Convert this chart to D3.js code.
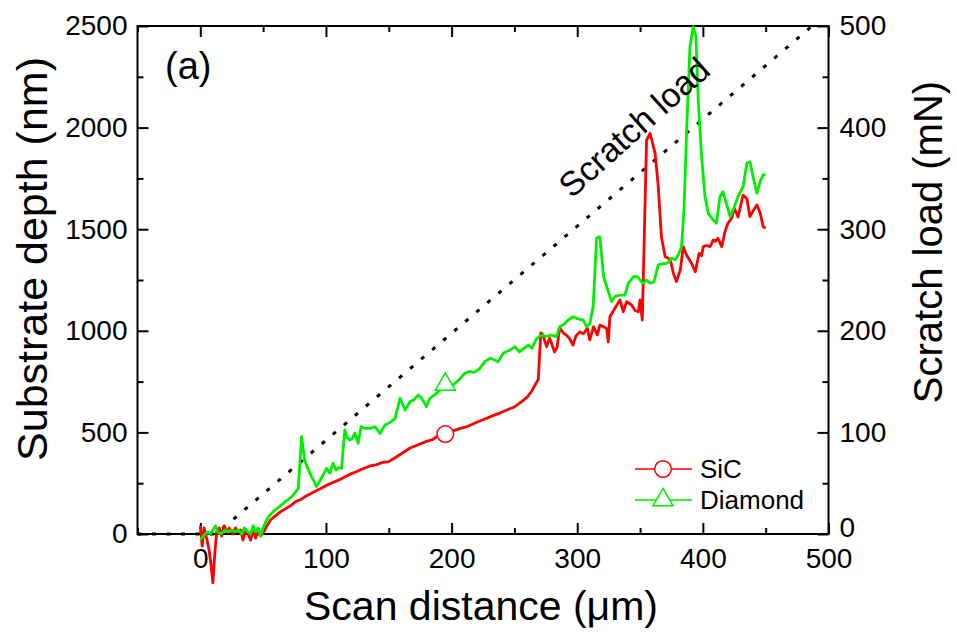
<!DOCTYPE html>
<html>
<head>
<meta charset="utf-8">
<script src="https://cdn.jsdelivr.net/npm/d3@7"></script>
<style>
  html, body { margin: 0; padding: 0; background: #fff; }
  svg { display: block; }
  text { font-family: "Liberation Sans", Arial, Helvetica, sans-serif; fill: #000; }
</style>
</head>
<body>
<svg id="chart" width="957" height="640"></svg>
<script>
// ---------------- data ----------------
const xTicksMajor = [0, 100, 200, 300, 400, 500];
const xTicksMinor = [-50, 50, 150, 250, 350, 450];
const yLeftMajor = [0, 500, 1000, 1500, 2000, 2500];
const yLeftMinor = [250, 750, 1250, 1750, 2250];
const yRightMajor = [0, 100, 200, 300, 400, 500];
const yRightMinor = [50, 150, 250, 350, 450];

const seriesNames = ["SiC", "Diamond"];
const seriesColors = ["#ff0000", "#00ee00"];

// SiC substrate depth (nm) vs scan distance (um)
const sicX = [0,1.5,3,5,7,8.5,10,11.5,13,15,17,19,21,23,26,28,30,32,34,36,38,40,42,44,46,48,50,53,56,60,64,68,72,76,80,85,90,95,100,105,110,116,120,124,130,135,140,145,150,155,160,167,173,180,185,188,194,200,207,213,220,226,232,238,244,250,255,260,264,267,269,271,272.7,275.6,278,280,282,284,286,289,292,294,296.6,299,302,305,308,310,313,316,318,321,323.4,324.7,326,330,334,336.6,339.3,343.3,346,348.6,350,351.8,355.2,358,362,364.5,367,370,372.5,374.5,376.5,379,382,384.4,387,391,394,397,399,400.3,403,405.7,408.3,410,412,415,417.6,420,423,425,428,432,435,437.5,440,443,445.6,448,450];
const sicY = [40,-60,30,-20,-80,-150,-240,-100,10,30,-10,40,10,30,0,30,10,20,-30,20,0,-30,20,-20,10,-10,5,40,70,90,110,125,140,160,170,190,205,222,238,252,265,284,296,306,322,335,340,352,356,375,395,423,438,456,465,478,490,505,520,530,550,565,580,595,610,625,648,672,705,740,760,990,980,922,964,930,896,920,1014,990,975,960,930,975,994,985,1014,955,1020,980,1028,1020,1012,946,1069,1111,1152,1094,1143,1127,1100,1094,1152,1053,1939,1972,1873,1709,1463,1365,1357,1340,1283,1242,1299,1414,1373,1332,1291,1381,1370,1414,1420,1414,1447,1440,1455,1414,1488,1530,1555,1604,1560,1668,1650,1562,1590,1619,1580,1512,1505];

// Diamond substrate depth (nm) vs scan distance (um)
const diaX = [0,2,4,6,8,10,12,14,16,18,20,22,25,28,30,33,35,38,40,42,44,46,48,50,52.7,55,58,62,66,70,74,78,80.6,83,85,88.5,90.5,92.5,95,97,100.5,103,105.7,108,110,112.4,115,116.4,119,121,123,125.6,128,131,135,139,143,147,152,155,159,163,166.8,170,173.4,176,180,182.7,188,192,194.7,198,202.6,206,210.6,214,218,222.5,226.5,230.5,234,237,241,246.4,250.4,254,257,261,264,267.7,271.7,275,279,283.6,286,289,292.8,296.8,300,304.8,307.5,310,312.7,315.4,318,321,323.5,327.4,330,334,338,340.6,344.6,348,350,352.5,355,358,361,364.5,368,371,373,375,378,380.4,383,385,387,389.7,392.4,394.5,396.3,399,401.7,404.3,408.3,410.8,413.6,416,418.5,421.7,425,428,432,435,437.5,440,443,445.6,448,450];
const diaY = [-30,-10,0,10,0,20,40,10,0,10,20,10,20,10,20,0,30,10,0,40,10,30,-10,30,69,90,110,130,151,170,192,225,479,364,330,282,260,233,260,282,323,300,348,315,325,323,512,479,463,470,497,446,528,520,520,528,495,536,553,569,668,610,651,660,684,670,626,668,692,715,728,720,741,760,791,800,795,815,848,864,858,848,889,905,922,897,910,930,915,963,979,972,979,971,1020,1030,1053,1069,1060,1053,1020,1035,1119,1455,1463,1266,1217,1143,1168,1176,1176,1234,1266,1266,1250,1234,1250,1234,1240,1324,1330,1332,1340,1357,1350,1373,1414,1600,1972,2398,2497,2447,2136,1857,1660,1578,1545,1529,1660,1685,1630,1562,1610,1660,1709,1824,1832,1758,1677,1734,1767,1767];

// Scratch load (mN) vs scan distance (um), right axis
const loadX = [-50, 12.5, 487];
const loadY = [0, 0, 500];

// Single symbol on each curve
const markerX = [195, 195];
const markerY = [492, 736];

// ---------------- layout ----------------
const svg = d3.select("#chart");
const L = 137.5, R = 828.5, T = 26, B = 534;

const x = d3.scaleLinear().domain([-50, 500]).range([L, R]);
const yL = d3.scaleLinear().domain([0, 2500]).range([B, T]);
const yR = d3.scaleLinear().domain([0, 500]).range([B, T]);

const MAJ = 11, MIN = 6;
const tickFont = 28;

function styleAxis(g) {
  g.select(".domain").remove();
  g.selectAll("line").attr("stroke", "#000").attr("stroke-width", 2);
  g.selectAll("text").style("font-size", tickFont + "px")
    .style("font-family", '"Liberation Sans", Arial, sans-serif');
}

// bottom
svg.append("g").attr("transform", `translate(0,${B})`)
  .call(d3.axisBottom(x).tickValues(xTicksMajor).tickSize(-MAJ).tickPadding(14).tickFormat(d3.format("d")))
  .call(styleAxis);
svg.append("g").attr("transform", `translate(0,${B})`)
  .call(d3.axisBottom(x).tickValues(xTicksMinor).tickSize(-MIN).tickFormat(""))
  .call(styleAxis);
// top
svg.append("g").attr("transform", `translate(0,${T})`)
  .call(d3.axisTop(x).tickValues(xTicksMajor).tickSize(-MAJ).tickFormat(""))
  .call(styleAxis);
svg.append("g").attr("transform", `translate(0,${T})`)
  .call(d3.axisTop(x).tickValues(xTicksMinor).tickSize(-MIN).tickFormat(""))
  .call(styleAxis);
// left
svg.append("g").attr("transform", `translate(${L},0)`)
  .call(d3.axisLeft(yL).tickValues(yLeftMajor).tickSize(-MAJ).tickPadding(10).tickFormat(d3.format("d")))
  .call(styleAxis);
svg.append("g").attr("transform", `translate(${L},0)`)
  .call(d3.axisLeft(yL).tickValues(yLeftMinor).tickSize(-MIN).tickFormat(""))
  .call(styleAxis);
// right
const rightAxis = svg.append("g").attr("transform", `translate(${R},0)`)
  .call(d3.axisRight(yR).tickValues(yRightMajor).tickSize(-MAJ).tickPadding(11).tickFormat(d3.format("d")))
  .call(styleAxis);
// the "0" sits a little higher so it clears the bottom "500"
rightAxis.selectAll(".tick text").filter(d => d === 0).attr("dy", "0.1em");
svg.append("g").attr("transform", `translate(${R},0)`)
  .call(d3.axisRight(yR).tickValues(yRightMinor).tickSize(-MIN).tickFormat(""))
  .call(styleAxis);

// frame
svg.append("rect").attr("x", L).attr("y", T).attr("width", R - L).attr("height", B - T)
  .attr("fill", "none").attr("stroke", "#000").attr("stroke-width", 2);

// scratch load dotted line
const loadLine = d3.line().x(d => x(d[0])).y(d => yR(d[1]));
svg.append("path").datum(loadX.map((v, i) => [v, loadY[i]]))
  .attr("d", loadLine).attr("fill", "none").attr("stroke", "#000")
  .attr("stroke-width", 3).attr("stroke-dasharray", "4,10.5");

// data lines
const line = d3.line().x(d => x(d[0])).y(d => yL(d[1]));
const series = [
  sicX.map((v, i) => [v, sicY[i]]),
  diaX.map((v, i) => [v, diaY[i]])
];
series.forEach((s, i) => {
  svg.append("path").datum(s).attr("d", line)
    .attr("fill", "none").attr("stroke", seriesColors[i])
    .attr("stroke-width", 2.8).attr("stroke-linejoin", "round");
});

// markers on curves
const symbols = [d3.symbol().type(d3.symbolCircle).size(Math.PI * 8.3 * 8.3),
                 d3.symbol().type(d3.symbolTriangle).size(175)];
markerX.forEach((mx, i) => {
  svg.append("path").attr("d", symbols[i]())
    .attr("transform", `translate(${x(mx)},${yL(markerY[i])})`)
    .attr("fill", "#fff").attr("stroke", seriesColors[i]).attr("stroke-width", 1.5);
});

// legend
const legX1 = 635, legX2 = 692, legSym = 663, legText = 700;
const legY = [469, 500];
seriesNames.forEach((name, i) => {
  svg.append("line").attr("x1", legX1).attr("x2", legX2).attr("y1", legY[i]).attr("y2", legY[i])
    .attr("stroke", seriesColors[i]).attr("stroke-width", 1.5);
  svg.append("path").attr("d", symbols[i]())
    .attr("transform", `translate(${legSym},${legY[i]})`)
    .attr("fill", "#fff").attr("stroke", seriesColors[i]).attr("stroke-width", 1.5);
  svg.append("text").attr("x", legText).attr("y", legY[i]).attr("dy", "0.35em")
    .style("font-size", "26px").text(name);
});

// annotations
svg.append("text").attr("x", 165).attr("y", 79).style("font-size", "38px").text("(a)");
svg.append("text")
  .attr("transform", `translate(642,136) rotate(-42)`)
  .attr("text-anchor", "middle").style("font-size", "34px").text("Scratch load");

// axis titles
svg.append("text").attr("x", 481).attr("y", 620).attr("text-anchor", "middle")
  .style("font-size", "41px").text("Scan distance (\u03bcm)");
svg.append("text").attr("transform", "translate(47,259) rotate(-90)")
  .attr("text-anchor", "middle").style("font-size", "43px").text("Substrate depth (nm)");
svg.append("text").attr("transform", "translate(942,242) rotate(-90)")
  .attr("text-anchor", "middle").style("font-size", "40px").text("Scratch load (mN)");
</script>
</body>
</html>
